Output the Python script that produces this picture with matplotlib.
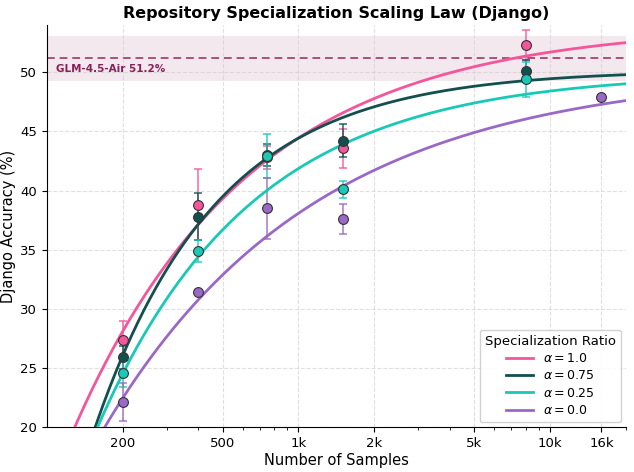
import numpy as np
import matplotlib
matplotlib.use('Agg')
from matplotlib import pyplot as plt
from matplotlib.ticker import FixedLocator, FixedFormatter, LogLocator, NullFormatter

# data
samples = [200, 400, 750, 1500, 8000]
samples_a0 = [200, 400, 750, 1500, 16000]

acc_a10 = [27.4, 38.8, 42.8, 43.6, 52.3]
err_a10 = [1.6, 3.0, 1.0, 1.65, 1.3]
acc_a075 = [25.9, 37.8, 43.0, 44.2, 50.1]
err_a075 = [1.0, 2.0, 0.9, 1.4, 0.9]
acc_a025 = [24.6, 34.9, 42.9, 40.1, 49.4]
err_a025 = [1.2, 0.9, 1.85, 0.7, 1.5]
acc_a0 = [22.1, 31.4, 38.5, 37.6, 47.9]
err_a0 = [1.6, 0.0, 2.6, 1.3, 0.0]

# fitted law y = A - B * n^(-c)
fit_A = [54.0, 50.2, 50.0, 50.2]
fit_B = [692.0, 2697.0, 1097.0, 425.0]
fit_c = [0.62, 0.89, 0.71, 0.515]

labels = [r'$\alpha = 1.0$', r'$\alpha = 0.75$', r'$\alpha = 0.25$', r'$\alpha = 0.0$']
colors = ['#f5559b', '#12504f', '#18c9b5', '#9a68c6']

baseline = 51.2
baseline_band = 1.9

xticks = [200, 500, 1000, 2000, 5000, 10000, 16000]
xticklabels = ['200', '500', '1k', '2k', '5k', '10k', '16k']

#-----------------------------------------------------------------------------#

fig = plt.figure(figsize=(6.34, 4.72), dpi=100)
ax = fig.add_axes([0.074, 0.095, 0.913, 0.852])

ax.axhspan(baseline - baseline_band, baseline + baseline_band, color='#b5678f', alpha=0.15, lw=0, zorder=0)
ax.axhline(baseline, color='#a8507c', ls='--', lw=1.4, dashes=(4, 2.5), zorder=1)
ax.text(109, baseline - 0.95, 'GLM-4.5-Air 51.2%', color='#8c1f58', fontsize=7.5,
        fontweight='bold', va='center', ha='left')

xs = [samples, samples, samples, samples_a0]
ys = [acc_a10, acc_a075, acc_a025, acc_a0]
es = [err_a10, err_a075, err_a025, err_a0]

n = np.logspace(np.log10(100), np.log10(20000), 400)
for i in range(4):
    curve = fit_A[i] - fit_B[i] * n ** (-fit_c[i])
    ax.plot(n, curve, color=colors[i], lw=2, label=labels[i], zorder=3)
    ax.errorbar(xs[i], ys[i], yerr=es[i], fmt='none', ecolor=colors[i], alpha=0.75,
                capsize=3, elinewidth=1.3, capthick=1.3, zorder=2)
    ax.scatter(xs[i], ys[i], s=50, color=colors[i], edgecolor='#333333', linewidth=0.8, zorder=4)

ax.set_xscale('log')
ax.set_xlim(100, 20000)
ax.set_ylim(20, 54)
ax.xaxis.set_major_locator(FixedLocator(xticks))
ax.xaxis.set_major_formatter(FixedFormatter(xticklabels))
ax.xaxis.set_minor_locator(LogLocator(base=10, subs=np.arange(2, 10)))
ax.xaxis.set_minor_formatter(NullFormatter())
ax.set_yticks([20, 25, 30, 35, 40, 45, 50])
ax.tick_params(labelsize=9.5)

ax.grid(True, which='major', ls='--', color='#cccccc', alpha=0.6, lw=0.8)
ax.spines['top'].set_visible(False)
ax.spines['right'].set_visible(False)

ax.set_xlabel('Number of Samples', fontsize=10.5, labelpad=2)
ax.set_ylabel('Django Accuracy (%)', fontsize=10.5, labelpad=3)
ax.set_title('Repository Specialization Scaling Law (Django)', fontsize=11.5, fontweight='bold', pad=5)

leg = ax.legend(title='Specialization Ratio', loc='lower right', fontsize=9, title_fontsize=9.5,
                framealpha=0.9, borderaxespad=0.4, handlelength=2.2, labelspacing=0.35)

fig.savefig('out.png', dpi=100)
